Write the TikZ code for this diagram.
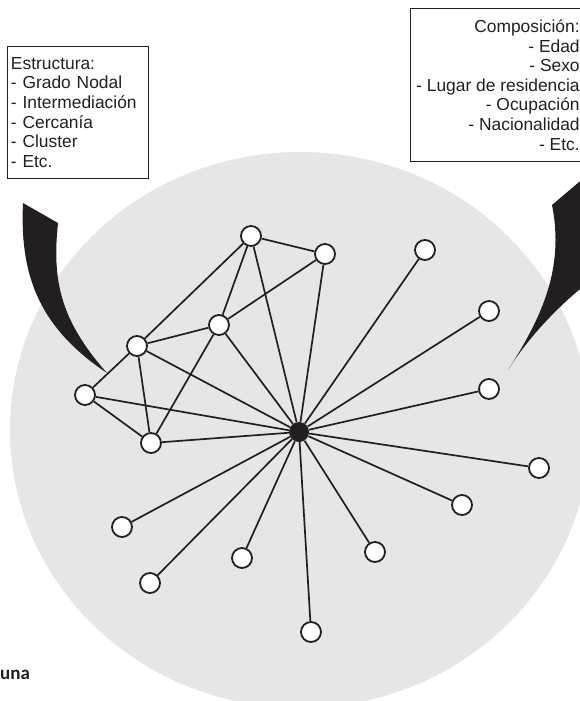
\documentclass[tikz,border=0pt]{standalone}
\usepackage{fontspec}
\setmainfont{Liberation Sans}
\newfontfamily\calib{Carlito}
\definecolor{ink}{HTML}{231F20}
\definecolor{disc}{HTML}{E6E6E6}
\begin{document}
\begin{tikzpicture}[x=1pt,y=-1pt,
  wn/.style={circle, draw=ink, fill=white, line width=1.8pt, minimum size=20pt, inner sep=0pt},
  hub/.style={circle, fill=ink, minimum size=20pt, inner sep=0pt},
  link/.style={draw=ink, line width=1.7pt},
  infobox/.style={draw=ink, line width=0.9pt, inner ysep=0pt, font=\fontsize{17.4}{19.6}\selectfont, text=ink},
  pointer/.style={fill=ink}]
\useasboundingbox (0,0) rectangle (579,701);
\fill[disc] (300,430) ellipse [x radius=290, y radius=278];

% pointers
\fill[pointer] (23,203) -- (58,223) .. controls (52,280) and (60,320) .. (107,373)
  .. controls (35,325) and (20,270) .. (23,203) -- cycle;
\fill[pointer] (552,205) -- (585,177) -- (585,285) .. controls (560,305) and (530,335) .. (508,370)
  .. controls (540,320) and (565,270) .. (552,205) -- cycle;

% boxes
\node[infobox, anchor=north west, align=left, text width=134pt, inner xsep=3.5pt, minimum height=132pt] (estructura) at (7,46)
 {Estructura:\\- Grado Nodal\\- Intermediación\\- Cercanía\\- Cluster\\- Etc.};
\node[infobox, anchor=north west, align=right, inner xsep=0pt, minimum width=175pt, minimum height=153pt] (composicion) at (410,8)
 {Composición:\\- Edad\\- Sexo\\- Lugar de residencia\\- Ocupación\\- Nacionalidad\\- Etc.};

\node[anchor=base west, inner sep=0pt, text=ink, font=\calib\bfseries\fontsize{19}{21}\selectfont] (una) at (0,679) {una};

% network nodes
\node[hub] (H) at (299,432) {};
\node[wn] (A) at (251,236) {};
\node[wn] (B) at (325,254) {};
\node[wn] (C) at (219,325) {};
\node[wn] (D) at (137,346) {};
\node[wn] (E) at (85,395) {};
\node[wn] (F) at (151,443) {};
\node[wn] (G) at (425,250) {};
\node[wn] (I) at (489,311) {};
\node[wn] (J) at (489,389) {};
\node[wn] (K) at (539,468) {};
\node[wn] (L) at (462,505) {};
\node[wn] (M) at (375,552) {};
\node[wn] (N) at (311,632) {};
\node[wn] (O) at (242,558) {};
\node[wn] (P) at (150,583) {};
\node[wn] (Q) at (122,527) {};

% links
\foreach \a/\b in {A/B, A/D, A/C, A/H, B/C, B/H, C/D, C/F, C/H, D/E, D/F, D/H, E/F, E/H, F/H,
  H/G, H/I, H/J, H/K, H/L, H/M, H/N, H/O, H/P, H/Q}
  \draw[link] (\a) -- (\b);
\end{tikzpicture}
\end{document}
